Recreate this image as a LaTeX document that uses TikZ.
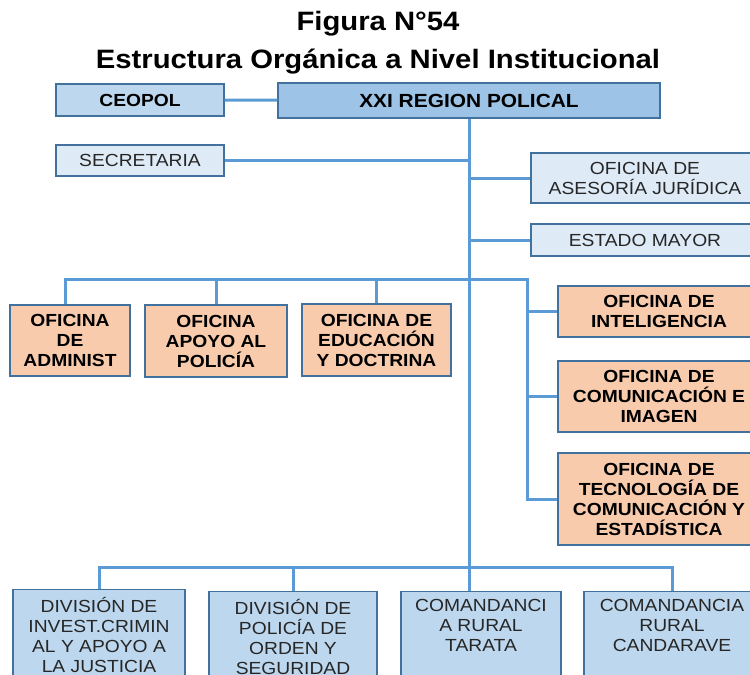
\documentclass[tikz,border=0pt]{standalone}
\usepackage{fontspec}
\setmainfont[FakeStretch=1.1]{Liberation Sans}
\usetikzlibrary{positioning, calc}
\definecolor{edgeblue}{HTML}{41719C}
\definecolor{wireblue}{HTML}{5B9BD5}
\definecolor{headblue}{HTML}{9DC3E6}
\definecolor{midblue}{HTML}{BDD7EE}
\definecolor{paleblue}{HTML}{DEEBF7}
\definecolor{peach}{HTML}{F8CBAD}

\begin{document}
\begin{tikzpicture}[
  x=1pt, y=-1pt,
  box/.style={draw=edgeblue, line width=1.3pt, inner sep=0pt, align=center,
              font=\fontsize{17.5}{20}\selectfont, text=black!85},
  pale/.style={box, fill=paleblue},
  mid/.style={box, fill=midblue},
  top/.style={box, fill=headblue, font=\bfseries\fontsize{19}{22}\selectfont, text=black},
  warm/.style={box, fill=peach, font=\bfseries\fontsize{17.5}{20}\selectfont, text=black},
  unit/.style={mid, anchor=north, inner ysep=7.5pt, text depth=80pt,
               execute at begin node=\strut},
  wire/.style={draw=wireblue, line width=3pt},
]
  \clip (0,0) rectangle (750,675);
  \fill[white] (0,0) rectangle (750,675);
  \node[font=\bfseries\fontsize{26.6}{38}\selectfont, align=center] (title) at (378,43)
    {Figura N°54\\Estructura Orgánica a Nivel Institucional};

  % top level
  \node[mid, font=\bfseries\fontsize{17.5}{20}\selectfont, text=black,
        minimum width=168pt, minimum height=32pt] (ceopol) at (140,100) {CEOPOL};
  \node[top, minimum width=382pt, minimum height=35pt] (region) at (469,100.5) {XXI REGION POLICAL};
  \node[pale, minimum width=168pt, minimum height=31pt] (secre) at (140,160.5) {SECRETARIA};
  \node[pale, minimum width=228pt, minimum height=50pt] (asesor) at (645,178) {OFICINA DE\\ASESORÍA JURÍDICA};
  \node[pale, minimum width=228pt, minimum height=32pt] (estado) at (645,240) {ESTADO MAYOR};

  % offices
  \node[warm, minimum width=120pt, minimum height=71pt] (admin) at (70,340.5) {OFICINA\\DE\\ADMINIST};
  \node[warm, minimum width=142pt, minimum height=72pt] (apoyo) at (216,341) {OFICINA\\APOYO AL\\POLICÍA};
  \node[warm, minimum width=149pt, minimum height=72pt] (educ) at (376.5,340) {OFICINA DE\\EDUCACIÓN\\Y DOCTRINA};
  \node[warm, minimum width=202pt, minimum height=51pt] (inteli) at (659,311.5) {OFICINA DE\\INTELIGENCIA};
  \node[warm, minimum width=202pt, minimum height=71pt] (comun) at (659,396.5) {OFICINA DE\\COMUNICACIÓN E\\IMAGEN};
  \node[warm, minimum width=202pt, minimum height=92pt] (tecno) at (659,499) {OFICINA DE\\TECNOLOGÍA DE\\COMUNICACIÓN Y\\ESTADÍSTICA};

  % divisions
  \node[unit, minimum width=172pt] (invest) at (99,589) {DIVISIÓN DE\\INVEST.CRIMIN\\AL Y APOYO A\\LA JUSTICIA};
  \node[unit, minimum width=168pt] (poli) at (293,591) {DIVISIÓN DE\\POLICÍA DE\\ORDEN Y\\SEGURIDAD};
  \node[unit, minimum width=160pt] (tarata) at (481,591) {COMANDANCI\\A RURAL\\TARATA};
  \node[unit, minimum width=176pt] (canda) at (672,591) {COMANDANCIA\\RURAL\\CANDARAVE};

  % connectors
  \coordinate (hub) at (527,279);
  \coordinate (bus) at (672,567);
  \draw[wire] (ceopol) -- (region);
  \draw[wire] (region.south) -- (region.south |- tarata.north);
  \draw[wire] (secre) -- (secre -| region.south);
  \draw[wire] (asesor) -- (asesor -| region.south);
  \draw[wire] (estado) -- (estado -| region.south);
  \draw[wire] ([xshift=-5pt]admin.north) |- (hub) -- (hub |- tecno) -- (tecno);
  \draw[wire] (apoyo.north) -- (apoyo.north |- hub);
  \draw[wire] (educ.north) -- (educ.north |- hub);
  \draw[wire] (hub |- inteli) -- (inteli);
  \draw[wire] (hub |- comun) -- (comun);
  \draw[wire] (invest.north) |- (bus) -- (canda.north);
  \draw[wire] (poli.north) -- (poli.north |- bus);
\end{tikzpicture}
\end{document}
